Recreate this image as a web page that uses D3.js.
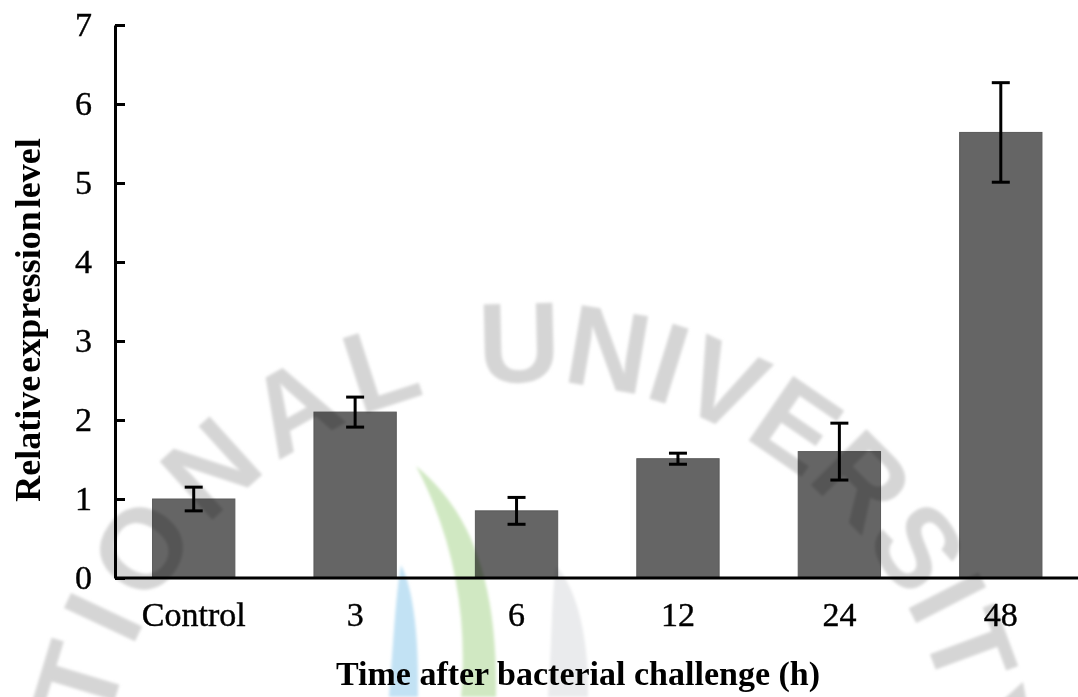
<!DOCTYPE html>
<html>
<head>
<meta charset="utf-8">
<script src="https://d3js.org/d3.v7.min.js"></script>
<style>
body{margin:0;background:#fff;}
svg{display:block;}
.tick text{font-family:"Liberation Serif","Times New Roman",serif;font-size:34px;fill:#000;stroke:#000;stroke-width:0.4px;}
.title{font-family:"Liberation Serif","Times New Roman",serif;font-weight:bold;fill:#000;}
.mark{mix-blend-mode:multiply;}
</style>
</head>
<body>
<svg id="chart"></svg>
<script>
var w=1078;
var h=697;
var categories=["Control","3","6","12","24","48"];
var means=[1.0,2.1,0.85,1.51,1.6,5.64];
var errs=[0.15,0.19,0.17,0.07,0.36,0.63];
var yTicks=[0,1,2,3,4,5,6,7];
var data=categories.map(function(c,i){return {cat:c,mean:means[i],err:errs[i]};});

var svg=d3.select("#chart")
          .attr("width",w)
          .attr("height",h);

var xScale=d3.scaleBand()
             .domain(categories)
             .range([113,1081.5])
             .paddingInner(0.49)
             .paddingOuter(0.245);
var yScale=d3.scaleLinear()
             .domain([0,7])
             .range([578,25]);

// bars
svg.append("g")
   .selectAll("rect")
   .data(data)
   .enter()
   .append("rect")
   .attr("x",function(d){return xScale(d.cat);})
   .attr("y",function(d){return yScale(d.mean);})
   .attr("width",xScale.bandwidth())
   .attr("height",function(d){return yScale(0)-yScale(d.mean);})
   .attr("fill","#656565")
   .attr("stroke","#5a5a5a")
   .attr("stroke-width",1);

// error bars
var cap=9;
var eb=svg.append("g")
          .attr("stroke","#000")
          .attr("stroke-width",3);
eb.selectAll("line.v")
  .data(data)
  .enter()
  .append("line")
  .attr("x1",function(d){return xScale(d.cat)+xScale.bandwidth()/2;})
  .attr("x2",function(d){return xScale(d.cat)+xScale.bandwidth()/2;})
  .attr("y1",function(d){return yScale(d.mean+d.err);})
  .attr("y2",function(d){return yScale(d.mean-d.err);});
eb.selectAll("line.top")
  .data(data)
  .enter()
  .append("line")
  .attr("x1",function(d){return xScale(d.cat)+xScale.bandwidth()/2-cap;})
  .attr("x2",function(d){return xScale(d.cat)+xScale.bandwidth()/2+cap;})
  .attr("y1",function(d){return yScale(d.mean+d.err);})
  .attr("y2",function(d){return yScale(d.mean+d.err);});
eb.selectAll("line.bot")
  .data(data)
  .enter()
  .append("line")
  .attr("x1",function(d){return xScale(d.cat)+xScale.bandwidth()/2-cap;})
  .attr("x2",function(d){return xScale(d.cat)+xScale.bandwidth()/2+cap;})
  .attr("y1",function(d){return yScale(d.mean-d.err);})
  .attr("y2",function(d){return yScale(d.mean-d.err);});

// axes
var xAxis=d3.axisBottom(xScale)
            .tickSize(0)
            .tickSizeOuter(0);
var yAxis=d3.axisLeft(yScale)
            .tickValues(yTicks)
            .tickFormat(d3.format("d"))
            .tickSizeInner(-10)
            .tickSizeOuter(0)
            .tickPadding(23);
var gx=svg.append("g")
          .classed("xAxis",true)
          .attr("transform","translate(0,"+yScale(0)+")")
          .call(xAxis);
gx.select(".domain").remove();
gx.selectAll("text")
  .attr("y",48)
  .attr("dy",0);
svg.append("line")
   .attr("x1",115)
   .attr("x2",w)
   .attr("y1",yScale(0))
   .attr("y2",yScale(0))
   .attr("stroke","#000")
   .attr("stroke-width",3);
var gy=svg.append("g")
          .classed("yAxis",true)
          .attr("transform","translate(115,0)")
          .call(yAxis);
gy.select(".domain")
  .attr("stroke-width",3);
gy.selectAll(".tick line")
  .attr("stroke-width",3);

// axis titles
svg.append("text")
   .classed("title",true)
   .attr("x",578)
   .attr("y",685)
   .attr("text-anchor","middle")
   .style("font-size","34px")
   .text("Time after bacterial challenge (h)");
svg.append("text")
   .classed("title",true)
   .attr("transform","translate(40,320) rotate(-90)")
   .attr("text-anchor","middle")
   .style("font-size","36px")
   .style("word-spacing","-6px")
   .text("Relative expression level");

// faint watermark over the figure
var defs=svg.append("defs");
defs.append("filter")
    .attr("id","soft")
    .append("feGaussianBlur")
    .attr("stdDeviation",1.6);
var wm=svg.append("g")
          .classed("mark",true)
          .attr("filter","url(#soft)");
var arc=d3.path();
arc.arc(530,812,430,-200*Math.PI/180,12*Math.PI/180);
defs.append("path")
    .attr("id","wmArc")
    .attr("d",arc.toString());
var tp=wm.append("text")
  .style("font-family","'Liberation Sans',Arial,sans-serif")
  .style("font-weight","bold")
  .style("font-size","114px")
  .attr("fill","#d5d5d5")
  .append("textPath")
  .attr("href","#wmArc")
  .attr("startOffset",56);
tp.append("tspan")
  .style("letter-spacing","12px")
  .text("NATIONAL ");
tp.append("tspan")
  .style("letter-spacing","0px")
  .text("UNIVERSITY");
wm.append("path")
  .attr("d","M401,565 C414,590 419,640 418,697 L389,697 C393,650 395,600 401,565 Z")
  .attr("fill","#c2e2f4");
wm.append("path")
  .attr("d","M416,466 C470,510 498,580 496,697 L461,697 C468,620 455,540 416,466 Z")
  .attr("fill","#d0e8c2");
wm.append("path")
  .attr("d","M556,566 C578,590 589,640 588,697 L548,697 C552,650 551,600 556,566 Z")
  .attr("fill","#eaebed");
</script>
</body>
</html>
